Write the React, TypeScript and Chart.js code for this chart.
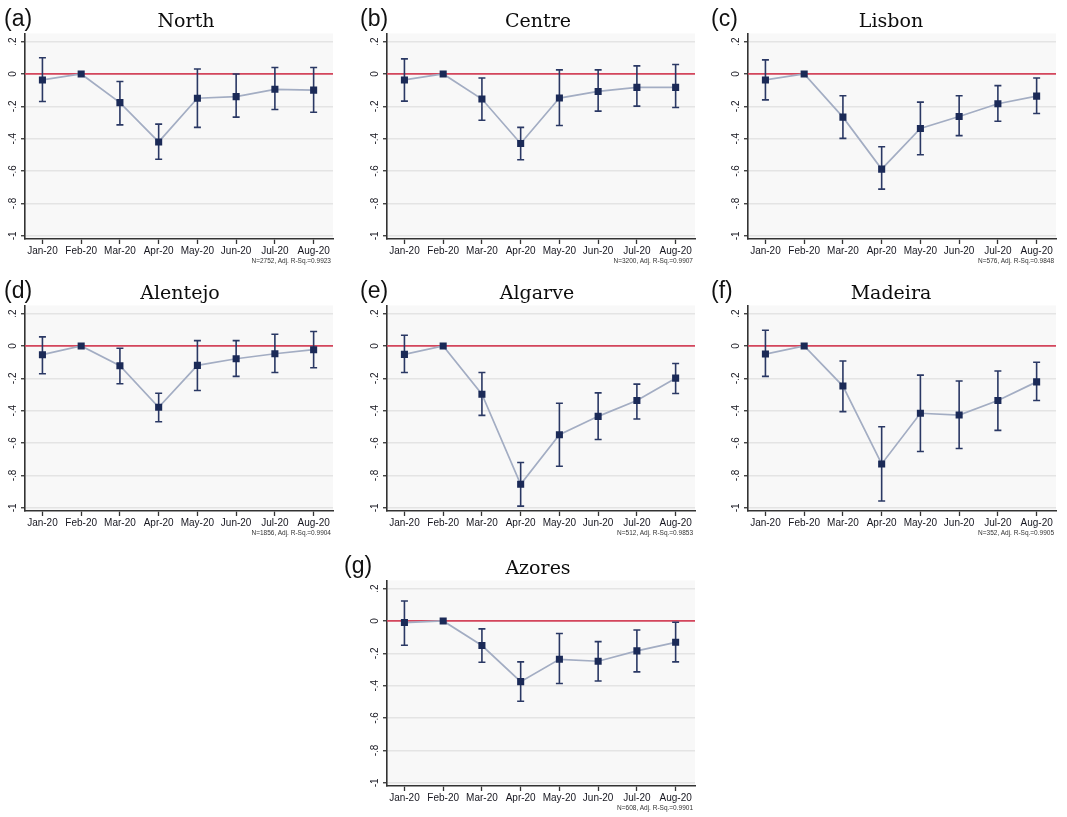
import React, { useEffect, useRef } from "react";
import { Chart, registerables } from "chart.js";

Chart.register(...registerables);

// Month categories on the x axis
const months = ["Jan-20", "Feb-20", "Mar-20", "Apr-20", "May-20", "Jun-20", "Jul-20", "Aug-20"];

// Y axis tick positions and their Stata-style labels
const yTicks = [-1, -0.8, -0.6, -0.4, -0.2, 0, 0.2];
const yTickLabels = ["-1", "-.8", "-.6", "-.4", "-.2", "0", ".2"];

// Point estimates with lower / upper confidence bounds (Feb-20 is the reference month)
const northEst = [-0.037, 0, -0.177, -0.42, -0.15, -0.14, -0.095, -0.1];
const northLo = [-0.17, 0, -0.315, -0.527, -0.33, -0.267, -0.22, -0.237];
const northHi = [0.1, 0, -0.047, -0.31, 0.031, 0.0, 0.04, 0.04];

const centreEst = [-0.037, 0, -0.155, -0.43, -0.149, -0.108, -0.083, -0.083];
const centreLo = [-0.168, 0, -0.286, -0.53, -0.319, -0.23, -0.199, -0.207];
const centreHi = [0.093, 0, -0.025, -0.33, 0.025, 0.025, 0.05, 0.058];

const lisbonEst = [-0.037, 0, -0.267, -0.588, -0.337, -0.263, -0.184, -0.137];
const lisbonLo = [-0.16, 0, -0.398, -0.712, -0.499, -0.381, -0.292, -0.244];
const lisbonHi = [0.087, 0, -0.135, -0.45, -0.174, -0.135, -0.072, -0.025];

const alentejoEst = [-0.054, 0, -0.122, -0.379, -0.12, -0.079, -0.048, -0.023];
const alentejoLo = [-0.172, 0, -0.234, -0.468, -0.275, -0.188, -0.164, -0.135];
const alentejoHi = [0.056, 0, -0.014, -0.292, 0.033, 0.033, 0.072, 0.089];

const algarveEst = [-0.052, 0, -0.298, -0.855, -0.549, -0.435, -0.337, -0.199];
const algarveLo = [-0.164, 0, -0.429, -0.99, -0.743, -0.578, -0.451, -0.294];
const algarveHi = [0.066, 0, -0.164, -0.72, -0.354, -0.29, -0.236, -0.108];

const madeiraEst = [-0.05, 0, -0.248, -0.729, -0.416, -0.427, -0.337, -0.222];
const madeiraLo = [-0.188, 0, -0.406, -0.958, -0.652, -0.634, -0.522, -0.337];
const madeiraHi = [0.097, 0, -0.093, -0.499, -0.18, -0.217, -0.155, -0.101];

const azoresEst = [-0.01, 0, -0.152, -0.375, -0.237, -0.249, -0.185, -0.132];
const azoresLo = [-0.15, 0, -0.255, -0.496, -0.387, -0.371, -0.315, -0.253];
const azoresHi = [0.123, 0, -0.049, -0.253, -0.078, -0.128, -0.056, -0.008];

const notes = [
  "N=2752, Adj. R-Sq.=0.9923",
  "N=3200, Adj. R-Sq.=0.9907",
  "N=576, Adj. R-Sq.=0.9848",
  "N=1856, Adj. R-Sq.=0.9904",
  "N=512, Adj. R-Sq.=0.9853",
  "N=352, Adj. R-Sq.=0.9905",
  "N=608, Adj. R-Sq.=0.9901",
];

// Colours
const PLOT_BG = "#f8f8f8";
const GRID = "#e4e4e4";
const AXIS = "#333333";
const ZERO = "#d4465c";
const LINE = "#a3adc3";
const MARK = "#1b2a57";
const BAR = "#2a3864";
const TEXT = "#16161f";

// Canvas geometry shared by every panel
const CW = 345;
const CH = 270;

type PanelSpec = {
  letter: string;
  title: string;
  est: number[];
  lo: number[];
  hi: number[];
  note: string;
  left: number;
  top: number;
  titleX: number;
  letterX: number;
};

const panels: PanelSpec[] = [
  { letter: "(a)", title: "North", est: northEst, lo: northLo, hi: northHi, note: notes[0], left: 0, top: 0, titleX: 186, letterX: 4 },
  { letter: "(b)", title: "Centre", est: centreEst, lo: centreLo, hi: centreHi, note: notes[1], left: 362, top: 0, titleX: 538, letterX: 360 },
  { letter: "(c)", title: "Lisbon", est: lisbonEst, lo: lisbonLo, hi: lisbonHi, note: notes[2], left: 723, top: 0, titleX: 891, letterX: 711 },
  { letter: "(d)", title: "Alentejo", est: alentejoEst, lo: alentejoLo, hi: alentejoHi, note: notes[3], left: 0, top: 272, titleX: 180, letterX: 4 },
  { letter: "(e)", title: "Algarve", est: algarveEst, lo: algarveLo, hi: algarveHi, note: notes[4], left: 362, top: 272, titleX: 537, letterX: 360 },
  { letter: "(f)", title: "Madeira", est: madeiraEst, lo: madeiraLo, hi: madeiraHi, note: notes[5], left: 723, top: 272, titleX: 891, letterX: 711 },
  { letter: "(g)", title: "Azores", est: azoresEst, lo: azoresLo, hi: azoresHi, note: notes[6], left: 362, top: 547, titleX: 538, letterX: 344 },
];

function decorPlugin(p: PanelSpec) {
  return {
    id: "panelDecor",
    beforeDraw(chart: any) {
      const { ctx, chartArea: a } = chart;
      ctx.save();
      ctx.fillStyle = PLOT_BG;
      ctx.fillRect(a.left, a.top, a.right - a.left, a.bottom - a.top);
      ctx.restore();
    },
    beforeDatasetsDraw(chart: any) {
      const { ctx, chartArea: a, scales } = chart;
      const xs = scales.x;
      const ys = scales.y;
      ctx.save();
      // reference line at zero
      const y0 = ys.getPixelForValue(0);
      ctx.strokeStyle = ZERO;
      ctx.lineWidth = 1.7;
      ctx.beginPath();
      ctx.moveTo(a.left, y0);
      ctx.lineTo(a.right, y0);
      ctx.stroke();
      // confidence intervals with caps
      ctx.strokeStyle = BAR;
      ctx.lineWidth = 1.6;
      p.est.forEach((_, i) => {
        if (p.lo[i] === p.hi[i]) return;
        const x = xs.getPixelForValue(i);
        const yl = ys.getPixelForValue(p.lo[i]);
        const yh = ys.getPixelForValue(p.hi[i]);
        ctx.beginPath();
        ctx.moveTo(x, yl);
        ctx.lineTo(x, yh);
        ctx.moveTo(x - 3.5, yl);
        ctx.lineTo(x + 3.5, yl);
        ctx.moveTo(x - 3.5, yh);
        ctx.lineTo(x + 3.5, yh);
        ctx.stroke();
      });
      ctx.restore();
    },
    afterDraw(chart: any) {
      const { ctx, scales } = chart;
      const ys = scales.y;
      ctx.save();
      ctx.fillStyle = TEXT;
      ctx.font = "10px 'Liberation Sans', Arial, sans-serif";
      ctx.textAlign = "center";
      ctx.textBaseline = "middle";
      yTicks.forEach((v, i) => {
        const y = ys.getPixelForValue(v);
        ctx.save();
        ctx.translate(13, y);
        ctx.rotate(-Math.PI / 2);
        ctx.fillText(yTickLabels[i], 0, 0);
        ctx.restore();
      });
      ctx.restore();
    },
  };
}

function Panel({ p }: { p: PanelSpec }) {
  const ref = useRef<HTMLCanvasElement>(null);

  useEffect(() => {
    const chart = new Chart(ref.current as HTMLCanvasElement, {
      type: "line",
      data: {
        datasets: [
          {
            data: p.est.map((v, i) => ({ x: i, y: v })),
            borderColor: LINE,
            borderWidth: 1.7,
            tension: 0,
            pointStyle: "rect",
            pointRadius: 5,
            pointBackgroundColor: MARK,
            pointBorderColor: MARK,
            pointBorderWidth: 0,
          },
        ],
      },
      options: {
        animation: false,
        responsive: false,
        maintainAspectRatio: false,
        events: [],
        layout: { padding: { top: 33.5, right: 12, left: 0, bottom: 0 } },
        plugins: { legend: { display: false }, tooltip: { enabled: false }, title: { display: false } },
        scales: {
          x: {
            type: "linear",
            min: -0.45,
            max: 7.5,
            afterBuildTicks: (s: any) => {
              s.ticks = months.map((_, i) => ({ value: i }));
            },
            afterFit: (s: any) => {
              s.height = 31;
            },
            grid: { drawOnChartArea: false, drawTicks: true, tickLength: 5, tickColor: AXIS, tickWidth: 1.3 },
            border: { display: true, color: AXIS, width: 1.6 },
            ticks: {
              autoSkip: false,
              minRotation: 0,
              maxRotation: 0,
              padding: 1,
              color: TEXT,
              font: { family: "'Liberation Sans', Arial, sans-serif", size: 10 },
              callback: (v: any) => months[v] ?? "",
            },
          },
          y: {
            type: "linear",
            min: -1.02,
            max: 0.25,
            afterBuildTicks: (s: any) => {
              s.ticks = yTicks.map((v) => ({ value: v }));
            },
            afterFit: (s: any) => {
              s.width = 25;
            },
            grid: { color: GRID, lineWidth: 1.5, drawTicks: true, tickLength: 4, tickColor: AXIS, tickWidth: 1.3 },
            border: { display: true, color: AXIS, width: 1.6 },
            ticks: { display: false },
          },
        },
      },
      plugins: [decorPlugin(p)],
    } as any);
    return () => chart.destroy();
  }, [p]);

  const baseline = p.top + 27;
  return (
    <>
      <canvas
        ref={ref}
        width={CW}
        height={CH}
        style={{ position: "absolute", left: p.left, top: p.top, width: CW, height: CH, display: "block" }}
      />
      <div
        style={{
          position: "absolute",
          left: p.letterX,
          top: baseline - 0.85 * 23,
          fontFamily: "'Liberation Sans', Arial, sans-serif",
          fontSize: 23,
          lineHeight: "23px",
          color: "#111",
          whiteSpace: "nowrap",
        }}
      >
        {p.letter}
      </div>
      <div
        style={{
          position: "absolute",
          left: p.titleX,
          top: baseline - 0.85 * 19,
          transform: "translateX(-50%)",
          fontFamily: "'DejaVu Serif', 'Liberation Serif', serif",
          fontSize: 19,
          lineHeight: "19px",
          color: "#0c0c0c",
          whiteSpace: "nowrap",
        }}
      >
        {p.title}
      </div>
      <div
        style={{
          position: "absolute",
          left: p.left + 331,
          top: p.top + 264 - 0.85 * 6.5,
          transform: "translateX(-100%)",
          fontFamily: "'Liberation Sans', Arial, sans-serif",
          fontSize: 6.5,
          lineHeight: "6.5px",
          color: "#333",
          whiteSpace: "nowrap",
        }}
      >
        {p.note}
      </div>
    </>
  );
}

export default function App() {
  return (
    <div style={{ position: "absolute", left: 0, top: 0, width: 1067, height: 817, background: "#fff", overflow: "hidden" }}>
      {panels.map((p) => (
        <Panel key={p.letter} p={p} />
      ))}
    </div>
  );
}
